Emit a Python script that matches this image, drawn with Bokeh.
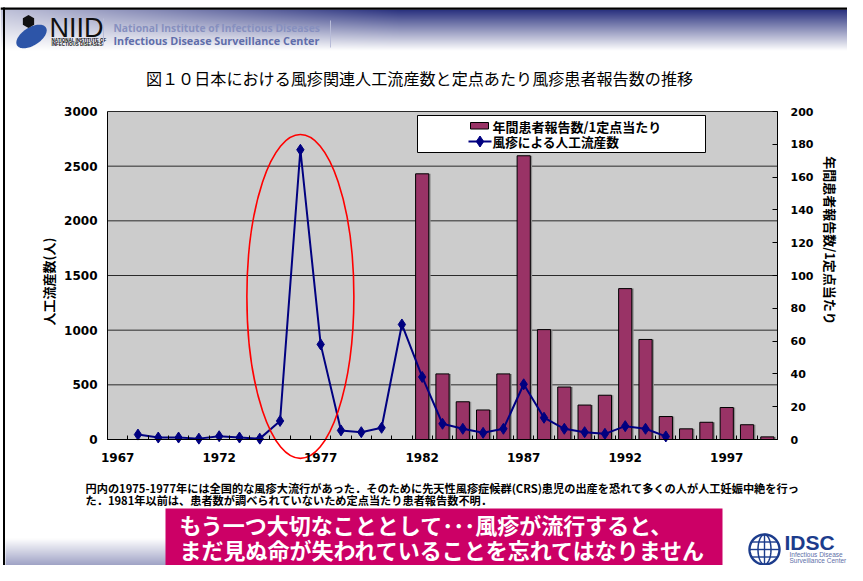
import numpy as np
from bokeh.plotting import figure
from bokeh.models import Range1d, LinearAxis, FixedTicker, BoxAnnotation, Label, ColumnDataSource
from bokeh.transform import dodge
from bokeh.embed import file_html
from bokeh.resources import INLINE

# ---------------- data ----------------
line_years = [1968, 1969, 1970, 1971, 1972, 1973, 1974, 1975, 1976, 1977, 1978, 1979, 1980,
              1981, 1982, 1983, 1984, 1985, 1986, 1987, 1988, 1989, 1990, 1991, 1992, 1993, 1994]
abortions = [45, 18, 18, 8, 30, 18, 8, 170, 2650, 870, 83, 67, 107,
             1052, 572, 144, 98, 61, 98, 505, 199, 98, 67, 52, 122, 98, 28]
bar_years = [1982, 1983, 1984, 1985, 1986, 1987, 1988, 1989, 1990,
             1991, 1992, 1993, 1994, 1995, 1996, 1997, 1998, 1999]
reports = [162, 40, 23, 18, 40, 173, 67, 32, 21,
           27, 92, 61, 14, 6.5, 10.5, 19.5, 9, 1.6]
x_tick_years = [1967, 1972, 1977, 1982, 1987, 1992, 1997]
left_ticks = [0, 500, 1000, 1500, 2000, 2500, 3000]
right_ticks = [0, 20, 40, 60, 80, 100, 120, 140, 160, 180, 200]

title_text = "図１０日本における風疹関連人工流産数と定点あたり風疹患者報告数の推移"
left_label = "人工流産数(人)"
right_label = "年間患者報告数/1定点当たり"
legend_bar = "年間患者報告数/1定点当たり"
legend_line = "風疹による人工流産数"
caption1 = "円内の1975-1977年には全国的な風疹大流行があった．そのために先天性風疹症候群(CRS)患児の出産を恐れて多くの人が人工妊娠中絶を行っ"
caption2 = "た．1981年以前は、患者数が調べられていないため定点当たり患者報告数不明．"
banner1 = "もう一つ大切なこととして･･･風疹が流行すると、"
banner2 = "まだ見ぬ命が失われていることを忘れてはなりません"

JP = "Noto Sans CJK JP"

# ---------------- geometry ----------------
W, H = 847, 565
PL, PR, PT, PB = 107, 777, 111, 439          # plot area in page px
X0, X1 = 1966.5, 1999.5                       # category extent
Y0, Y1 = 0, 3000                              # left axis
R0, R1 = 0, 200                               # right axis
sx = (PR - PL) / (X1 - X0)
sy = (PB - PT) / (Y1 - Y0)
sr = (PB - PT) / (R1 - R0)

p = figure(width=W, height=H, output_backend="svg", toolbar_location=None,
           x_range=Range1d(X0 - PL / sx, X1 + (W - PR) / sx),
           y_range=Range1d(Y0 - (H - PB) / sy, Y1 + PT / sy),
           min_border=0, min_border_left=0, min_border_right=0,
           min_border_top=0, min_border_bottom=0)
p.extra_y_ranges = {"right": Range1d(R0 - (H - PB) / sr, R1 + PT / sr),
                    "py": Range1d(0, H)}
p.extra_x_ranges = {"px": Range1d(0, W)}

p.background_fill_color = "white"
p.border_fill_color = "white"
p.outline_line_color = None
p.xgrid.visible = False
p.ygrid.visible = False

def X(x):
    return x

def Y(y):
    return H - y

# ---------------- plot area ----------------
p.add_layout(BoxAnnotation(left=X0, right=X1, bottom=Y0, top=Y1, fill_color="#CCCCCC",
                           fill_alpha=1, line_alpha=0, level="image"))
p.segment(x0=X0, x1=X1, y0=left_ticks, y1=left_ticks, line_color="#2a2a2a", line_width=1)

xa = p.xaxis[0]
xa.fixed_location = Y0
xa.bounds = (X0, X1)
xa.ticker = FixedTicker(ticks=x_tick_years, minor_ticks=[y - 0.5 for y in range(1967, 2001)])
xa.major_tick_line_color = None
xa.minor_tick_in = 4
xa.minor_tick_out = 0
xa.minor_tick_line_color = "black"
xa.axis_line_color = "black"
xa.major_label_standoff = 7
xa.major_label_text_font = "DejaVu Sans"
xa.major_label_text_font_style = "bold"
xa.major_label_text_font_size = "12px"
xa.major_label_text_color = "black"

ya = p.yaxis[0]
ya.fixed_location = X0
ya.bounds = (Y0, Y1)
ya.ticker = FixedTicker(ticks=left_ticks)
ya.major_tick_in = 0
ya.major_tick_out = 0
ya.minor_tick_line_color = None
ya.axis_line_color = "black"
ya.major_label_standoff = 10
ya.major_label_text_font = "DejaVu Sans"
ya.major_label_text_font_style = "bold"
ya.major_label_text_font_size = "12px"
ya.major_label_text_color = "black"

ra = LinearAxis(y_range_name="right", ticker=FixedTicker(ticks=right_ticks),
                fixed_location=X1, bounds=(R0, R1))
ra.major_tick_in = 5
ra.major_tick_out = 0
ra.minor_tick_line_color = None
ra.axis_line_color = "black"
ra.major_label_standoff = 13
ra.major_label_text_font = "DejaVu Sans"
ra.major_label_text_font_style = "bold"
ra.major_label_text_font_size = "11px"
ra.major_label_text_color = "black"
p.add_layout(ra, "right")

# ---------------- data marks ----------------
bars = ColumnDataSource(dict(x=bar_years, top=reports))
p.vbar(x=dodge("x", 0.09), top="top", width=0.65, source=bars, y_range_name="right",
       fill_color="#8e8e8e", line_alpha=0)
p.vbar(x="x", top="top", width=0.65, source=bars, y_range_name="right",
       fill_color="#993366", line_color="black", line_width=1)
p.line(line_years, abortions, line_color="#000080", line_width=2)
p.scatter(line_years, abortions, marker="diamond", size=11, color="#000080")

# red ellipse around the 1975-1977 epidemic
p.ellipse(x=1976.0, y=1308, width=5.27, height=2964, fill_alpha=0,
          line_color="#ff0000", line_width=1.6)

# ---------------- helpers (page px) ----------------
def box(l, r, t_, b, color, line_color=None, line_width=1, level="annotation"):
    bx = BoxAnnotation(left=X(l), right=X(r), top=Y(t_), bottom=Y(b),
                       x_range_name="px", y_range_name="py",
                       fill_color=color, fill_alpha=1,
                       line_color=line_color if line_color else "white",
                       line_alpha=1 if line_color else 0,
                       line_width=line_width, level=level)
    p.add_layout(bx)
    return bx

def label(x, y, text, size, color="black", font=JP, style="normal",
          align="left", baseline="middle", angle=0):
    lb = Label(x=X(x), y=Y(y), text=text, x_range_name="px", y_range_name="py",
               text_font=font, text_font_size=size, text_color=color,
               text_font_style=style, text_align=align, text_baseline=baseline,
               angle=angle)
    p.add_layout(lb)
    return lb

def gradient(x0, x1, y0, y1, func):
    w, h = x1 - x0, y1 - y0
    img = np.empty((h, w), dtype=np.uint32)
    v = img.view(dtype=np.uint8).reshape((h, w, 4))
    xs = np.arange(w) + x0 + 0.5
    for r in range(h):
        ypage = y1 - r - 0.5          # row 0 is the bottom row
        rgb = func(xs, ypage)
        v[r, :, 0] = rgb[0]
        v[r, :, 1] = rgb[1]
        v[r, :, 2] = rgb[2]
        v[r, :, 3] = 255
    p.image_rgba(image=[img], x=X(x0), y=Y(y1), dw=w, dh=h,
                 x_range_name="px", y_range_name="py")

navy = np.array([40, 48, 126], dtype=float)
white = np.array([255, 255, 255], dtype=float)

def header_col(xs, ypage):
    vv = np.clip((50 - ypage) / 41.0, 0, 1)
    hh = 0.3 + 0.7 * np.clip(xs / 400.0, 0, 1)
    d = vv * hh
    return [(white[k] * (1 - d) + navy[k] * d).astype(np.uint8) for k in range(3)]

def footer_col(xs, ypage):
    vv = np.clip((ypage - 538) / 37.0, 0, 1) * 0.62
    d = vv * np.ones_like(xs)
    return [(white[k] * (1 - d) + navy[k] * d).astype(np.uint8) for k in range(3)]

# ---------------- header ----------------
gradient(0, W, 9, 51, header_col)
box(0, W, 7, 9.3, "black")
box(2.5, 4.5, 7, H, "black")

# NIID logo
tt = np.linspace(0, 2 * np.pi, 80)
th = np.deg2rad(-32)
bx_ = 31 + 17 * np.cos(tt) * np.cos(th) - 9 * np.sin(tt) * np.sin(th)
by_ = 36 + 17 * np.cos(tt) * np.sin(th) + 9 * np.sin(tt) * np.cos(th)
p.patch(list(bx_), [Y(v) for v in by_], x_range_name="px", y_range_name="py",
        fill_color="#2d55a8", line_alpha=0)
ang = np.linspace(0, 2 * np.pi, 7) + np.pi / 6
p.patch(list(28 + 6.5 * np.cos(ang)), [Y(v) for v in 21 + 6.5 * np.sin(ang)],
        x_range_name="px", y_range_name="py", fill_color="#111111", line_alpha=0)
label(49, 27, "NIID", "27px", color="#111111", font="Liberation Sans")
label(51, 39.5, "NATIONAL INSTITUTE OF", "4.5px", color="#111111", font="Liberation Sans", style="bold")
label(51, 44, "INFECTIOUS DISEASES", "4.5px", color="#111111", font="Liberation Sans", style="bold")
box(102.5, 103.5, 18, 45, "#b8bcd8")
box(329.5, 330.5, 20, 47, "#b8bcd8")
label(113, 27.5, "National Institute of Infectious Diseases", "10.3px", color="#8790bf",
      font="Open Sans", style="bold")
label(113, 40, "Infectious Disease Surveillance Center", "10.8px", color="#5f6daa",
      font="Open Sans", style="bold")

# ---------------- titles / axis labels ----------------
label(419, 77, title_text, "16.1px", align="center")
label(47.5, 281, left_label, "13px", style="bold", align="center", angle=np.pi / 2)
label(830, 240, right_label, "13px", style="bold", align="center", angle=-np.pi / 2)

# ---------------- legend ----------------
box(417, 705, 115, 152, "white", line_color="black", line_width=1, level="underlay")
box(470, 488, 122, 128.5, "#993366", line_color="black", line_width=1)
p.line([X(468), X(491)], [Y(141), Y(141)], x_range_name="px", y_range_name="py",
       line_color="#000080", line_width=2)
p.scatter([X(479.5)], [Y(141)], x_range_name="px", y_range_name="py",
          marker="diamond", size=11, color="#000080")
label(492, 125.5, legend_bar, "13px", style="bold")
label(492, 141, legend_line, "12.7px", style="bold")

# ---------------- caption ----------------
label(85, 487, caption1, "11.2px", style="bold")
label(85, 499, caption2, "11.2px", style="bold")

# ---------------- footer ----------------
gradient(5, 166, 538, 575, footer_col)
box(0, W, 575, H + 2, "#2b3a7a")

box(165, 722, 508, H + 2, "#CC0066")
label(179, 523.5, banner1, "22px", color="white", style="bold")
label(179, 548, banner2, "22px", color="white", style="bold")

# IDSC logo
gt = np.linspace(0, 2 * np.pi, 60)
gc = "#1c3c8c"
gx, gy, gr = 764, 549, 15
p.line(list(gx + gr * np.cos(gt)), [Y(v) for v in gy + gr * np.sin(gt)],
       x_range_name="px", y_range_name="py", line_color=gc, line_width=2.4)
p.line(list(gx + 6.5 * np.cos(gt)), [Y(v) for v in gy + gr * np.sin(gt)],
       x_range_name="px", y_range_name="py", line_color=gc, line_width=1.5)
for yy, half in [(gy, gr), (gy - 7.5, 13), (gy + 7.5, 13)]:
    p.line([gx - half, gx + half], [Y(yy), Y(yy)], x_range_name="px", y_range_name="py",
           line_color=gc, line_width=1.4)
p.line([gx, gx], [Y(gy - gr), Y(gy + gr)], x_range_name="px", y_range_name="py",
       line_color=gc, line_width=1.4)
label(784, 542, "IDSC", "21px", color=gc, font="Liberation Sans", style="bold")
label(789, 554, "Infectious Disease", "6.5px", color="#6070a8", font="Liberation Sans")
label(789, 560, "Surveillance Center", "6.5px", color="#6070a8", font="Liberation Sans")

open("out.html", "w").write(file_html(p, INLINE))
